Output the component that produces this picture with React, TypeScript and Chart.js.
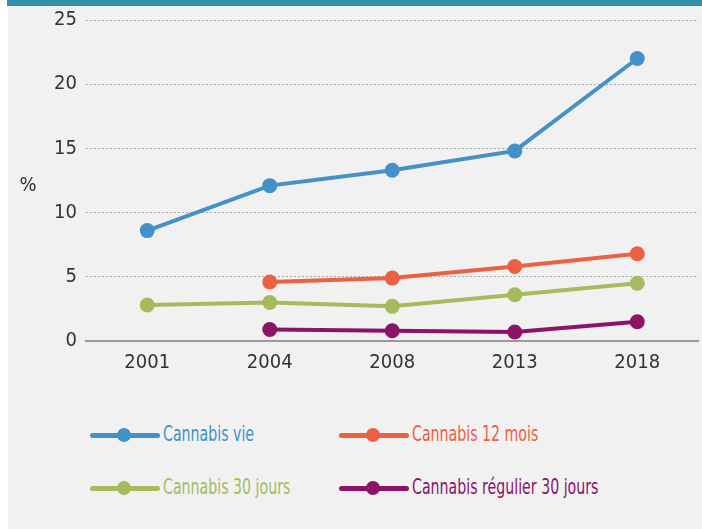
import React, { useEffect, useRef } from "react";
import { Chart, registerables } from "chart.js";

Chart.register(...registerables);

const years = ["2001", "2004", "2008", "2013", "2018"];
const cannabisVie = [8.6, 12.1, 13.3, 14.8, 22.0];
const cannabis12Mois = [null, 4.6, 4.9, 5.8, 6.8];
const cannabis30Jours = [2.8, 3.0, 2.7, 3.6, 4.5];
const cannabisRegulier = [null, 0.9, 0.8, 0.7, 1.5];
const seriesLabels = ["Cannabis vie", "Cannabis 12 mois", "Cannabis 30 jours", "Cannabis régulier 30 jours"];
const seriesColors = ["#4391c7", "#ec6143", "#a5bb5d", "#8b1467"];

const FONT = '"DejaVu Sans Condensed", "Liberation Sans Narrow", "Roboto", sans-serif';

const percentLabel = {
  id: "percentLabel",
  afterDraw(chart: any) {
    const ctx = chart.ctx;
    ctx.save();
    ctx.font = `20px ${FONT}`;
    ctx.fillStyle = "#333";
    ctx.textAlign = "center";
    ctx.textBaseline = "middle";
    ctx.fillText("%", 20, 187);
    ctx.restore();
  },
};

export default function App() {
  const ref = useRef<HTMLCanvasElement>(null);
  useEffect(() => {
    if (!ref.current) return;
    const data = [cannabisVie, cannabis12Mois, cannabis30Jours, cannabisRegulier];
    const chart = new Chart(ref.current, {
      type: "line",
      data: {
        labels: years,
        datasets: data.map((d, i) => ({
          label: seriesLabels[i],
          data: d,
          borderColor: seriesColors[i],
          backgroundColor: seriesColors[i],
          pointBackgroundColor: seriesColors[i],
          pointBorderColor: seriesColors[i],
          borderWidth: 4,
          pointRadius: 7.5,
          pointBorderWidth: 0,
          tension: 0,
          spanGaps: false,
        })),
      },
      options: {
        animation: false,
        responsive: false,
        maintainAspectRatio: false,
        layout: { padding: { top: 6, right: 0, left: 0, bottom: 0 } },
        plugins: { legend: { display: false }, tooltip: { enabled: false } },
        scales: {
          x: {
            offset: true,
            grid: { display: false, drawTicks: false },
            border: { display: true, color: "#9a9a9a", width: 2 },
            ticks: { color: "#333", padding: 10, font: { family: FONT, size: 20 } },
            afterFit: (s: any) => { s.height = 40; },
          },
          y: {
            min: 0,
            max: 25,
            ticks: { stepSize: 5, color: "#333", padding: 9, font: { family: FONT, size: 20 } },
            grid: {
              drawTicks: false,
              color: (c: any) => (c.tick && c.tick.value === 0 ? "rgba(0,0,0,0)" : "#a8a8a8"),
              lineWidth: 1,
            },
            border: { display: false, dash: [2, 2] },
            afterFit: (s: any) => { s.width = 78; },
          },
        },
      },
      plugins: [percentLabel],
    });
    return () => chart.destroy();
  }, []);

  const legendItem = (i: number, left: number, top: number) => (
    <div key={i} style={{ position: "absolute", left, top, height: 20, width: 340 }}>
      <div style={{ position: "absolute", left: 0, top: 7.5, width: 70, height: 5, borderRadius: 3, background: seriesColors[i] }} />
      <div style={{ position: "absolute", left: 27, top: 3, width: 14, height: 14, borderRadius: 7, background: seriesColors[i] }} />
      <div style={{ position: "absolute", left: 73, top: -3, fontFamily: FONT, fontSize: 21, lineHeight: "24px", color: seriesColors[i], whiteSpace: "nowrap", transform: "scaleX(0.75)", transformOrigin: "0 50%" }}>
        {seriesLabels[i]}
      </div>
    </div>
  );

  return (
    <div style={{ position: "fixed", left: 0, top: 0, width: 702, height: 529, background: "#fff", overflow: "hidden" }}>
      <div style={{ position: "absolute", left: 7, top: 0, width: 695, height: 6, background: "#338fa5" }} />
      <div style={{ position: "absolute", left: 8, top: 6, width: 694, height: 523, background: "#f1f1f1" }} />
      <canvas ref={ref} width={698} height={382} style={{ position: "absolute", left: 8, top: -1, width: 698, height: 382 }} />
      {legendItem(0, 90, 425)}
      {legendItem(1, 339, 425)}
      {legendItem(2, 90, 478)}
      {legendItem(3, 339, 478)}
    </div>
  );
}
